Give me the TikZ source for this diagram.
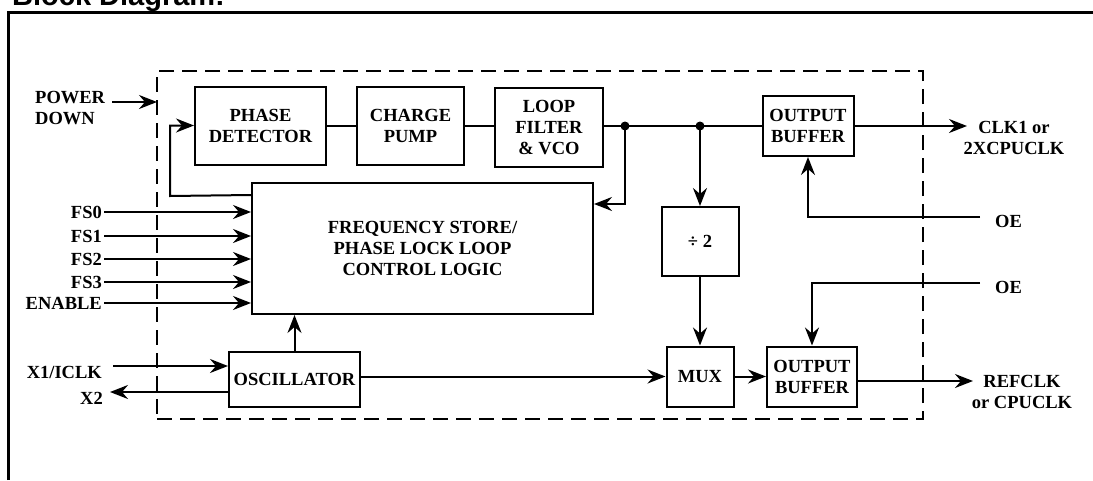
\documentclass[tikz,border=0pt]{standalone}
\usepackage{fontspec}
\setmainfont{Liberation Serif}
\newfontfamily\headfont{Liberation Sans}
\usetikzlibrary{arrows.meta}

\tikzset{
	blk/.style={draw, line width=2pt, align=center, inner sep=2pt},
	lbl/.style={inner sep=2pt, align=center},
	wire/.style={line width=2pt},
	arr/.style={wire, -{Stealth[length=18pt,width=14pt,inset=6pt]}},
	jdot/.style={circle, fill, inner sep=0pt, minimum size=9pt},
}

\begin{document}
\begin{tikzpicture}[x=1pt,y=-1pt,font=\bfseries\fontsize{18.5}{21}\selectfont]

\clip (0,0) rectangle (1093,480);

\node[anchor=base west, inner sep=0pt, font=\headfont\bfseries\fontsize{29}{34}\selectfont] (title) at (12,5) {Block Diagram:};
\draw[line width=3pt] (8,480) -- (8,12) -- (1093,12);
\node[draw, line width=2pt, dash pattern=on 15pt off 8pt, inner sep=0pt, minimum width=766pt, minimum height=348pt] (chip) at (540,245) {};

\node[blk, minimum width=131pt, minimum height=78pt] (pd) at (260.5,125.5) {PHASE\\DETECTOR};
\node[blk, minimum width=107pt, minimum height=78pt] (cp) at (410.5,126) {CHARGE\\PUMP};
\node[blk, minimum width=108pt, minimum height=79pt] (lf) at (549,127.5) {LOOP\\FILTER\\\& VCO};
\node[blk, minimum width=91pt, minimum height=60pt] (ob1) at (808,126) {OUTPUT\\BUFFER};
\node[blk, minimum width=341pt, minimum height=131pt] (fs) at (422.5,248.5) {FREQUENCY STORE/\\PHASE LOCK LOOP\\CONTROL LOGIC};
\node[blk, minimum width=77pt, minimum height=69pt] (div) at (700,241.5) {÷ 2};
\node[blk, minimum width=67pt, minimum height=60pt] (mux) at (700,376.5) {MUX};
\node[blk, minimum width=90pt, minimum height=60pt] (ob2) at (812,376.5) {OUTPUT\\BUFFER};
\node[blk, minimum width=131pt, minimum height=55pt] (osc) at (294.5,379.5) {OSCILLATOR};

\node[jdot] (d1) at (625,126) {};
\node[jdot] (d2) at (700,126) {};

\draw[wire] (pd.east |- d1) -- (cp.west |- d1);
\draw[wire] (cp.east |- d1) -- (lf.west |- d1);
\draw[wire] (lf.east |- d1) -- (d1.center) -- (d2.center) -- (ob1.west |- d2);
\draw[arr] (d1.center) |- ([yshift=-22pt]fs.north east);
\draw[arr] (d2.center) -- (div.north);
\draw[arr] (div.south) -- (mux.north);
\draw[arr] (mux.east) -- (ob2.west);
\draw[arr] (osc.east |- mux) -- (mux.west);
\draw[arr] (osc.north) -- (osc.north |- fs.south);

\coordinate (fbk) at (170,196);
\draw[arr] ([yshift=-13pt]fs.north west) -- (fbk) |- (pd.west);

\node[lbl, anchor=west, align=left] (pdn) at (33,108) {POWER\\DOWN};
\coordinate (pdA) at (157,102);
\draw[arr] ([xshift=5pt]pdn.east |- pdA) -- (pdA);

\foreach \y/\t [count=\i] in {212/FS0,236/FS1,259/FS2,282/FS3,303/ENABLE}{
	\node[lbl, anchor=east] (in\i) at (104,\y) {\t};
	\draw[arr] (in\i.east) -- (in\i.east -| fs.west);
}

\coordinate (x1A) at (113,366);
\node[lbl, anchor=east] (x1) at (104,372) {X1/ICLK};
\draw[arr] (x1A) -- (x1A -| osc.west);
\coordinate (x2A) at (110,392);
\node[lbl, anchor=east] (x2) at (105,398) {X2};
\draw[arr] (osc.west |- x2A) -- (x2A);

\coordinate (clkA) at (967,126);
\draw[arr] (ob1.east |- clkA) -- (clkA);
\node[lbl] (clkAt) at (1014,138) {CLK1 or\\2XCPUCLK};

\coordinate (oeA) at (980,217);
\draw[arr] (oeA) -| (ob1.south);
\node[lbl, anchor=west] (oeAt) at (993,221) {OE};
\coordinate (oeB) at (980,283);
\draw[arr] (oeB) -| (ob2.north);
\node[lbl, anchor=west] (oeBt) at (993,287) {OE};

\coordinate (refA) at (973,381);
\draw[arr] (ob2.east |- refA) -- (refA);
\node[lbl] (refAt) at (1022,392) {REFCLK\\or CPUCLK};

\end{tikzpicture}
\end{document}
